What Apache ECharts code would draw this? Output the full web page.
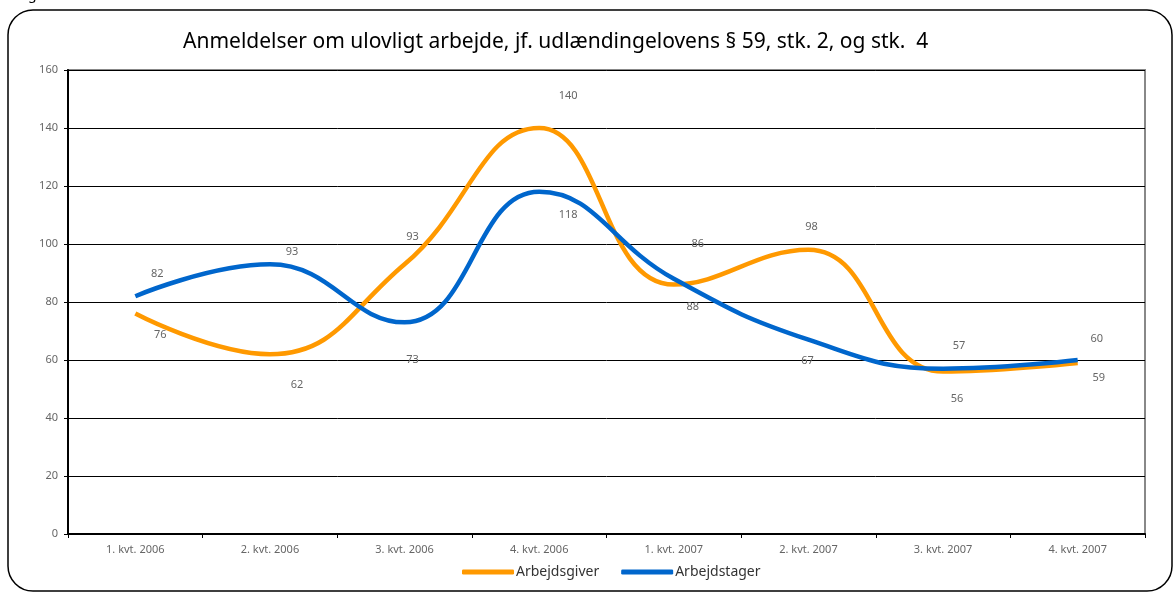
<!DOCTYPE html>
<html><head><meta charset="utf-8">
<script src="https://cdn.jsdelivr.net/npm/echarts@6/dist/echarts.min.js"></script>
<style>html,body{margin:0;padding:0;background:#fff}#c{width:1173px;height:592px}</style>
</head><body><div id="c"></div>
<script>
const categories = ['1. kvt. 2006','2. kvt. 2006','3. kvt. 2006','4. kvt. 2006','1. kvt. 2007','2. kvt. 2007','3. kvt. 2007','4. kvt. 2007'];
const arbejdsgiver = [76, 62, 93, 140, 86, 98, 56, 59];
const arbejdstager = [82, 93, 73, 118, 88, 67, 57, 60];
const yTicks = [0, 20, 40, 60, 80, 100, 120, 140, 160];

// label placement (pixel offsets from each point), kept separate from data
const giverLabelOffsets = [[25,21],[27,31],[8,-27],[29,-32],[24,-41],[3,-23],[14,27],[21,15]];
const tagerLabelOffsets = [[22,-22],[22,-12],[8,38],[29,23],[19,28],[-1,21],[16,-23],[19,-21]];

function withLabels(values, offsets){
  return values.map((v,i)=>({value:v,label:{offset:offsets[i]}}));
}
const font = 'Noto Sans';
const chart = echarts.init(document.getElementById('c'), null, {renderer:'canvas'});
chart.setOption({
  animation:false,
  backgroundColor:'#fff',
  title:{text:'Anmeldelser om ulovligt arbejde, jf. udlændingelovens § 59, stk. 2, og stk.  4',
    left:178, top:27, textStyle:{fontFamily:font, fontSize:21, fontWeight:'normal', color:'#000'}},
  graphic:[
    {type:'rect', shape:{x:8,y:10,width:1164,height:581,r:25}, style:{fill:null, stroke:'#000', lineWidth:1.5}, silent:true},
    {type:'text', x:28, y:-12, style:{text:'g', font:'14px Noto Sans', fill:'#000'}, silent:true}
  ],
  legend:{bottom:8, left:457, itemWidth:52, itemHeight:5, itemGap:22, icon:'roundRect',
    textStyle:{fontFamily:font, fontSize:14, color:'#333', padding:[0,0,0,-3]},
    data:['Arbejdsgiver','Arbejdstager']},
  grid:{left:68, right:28, top:70, bottom:58, show:true, borderColor:'#888', borderWidth:2, backgroundColor:'transparent'},
  xAxis:{type:'category', data:categories, boundaryGap:true,
    axisLine:{lineStyle:{color:'#000', width:2}},
    axisTick:{show:true, length:4, inside:false, lineStyle:{color:'#000'}},
    axisLabel:{color:'#666', fontFamily:font, fontSize:11, margin:10},
    splitLine:{show:false}},
  yAxis:{type:'value', min:yTicks[0], max:yTicks[yTicks.length-1], interval:20,
    axisLine:{show:true, lineStyle:{color:'#000', width:2}},
    axisTick:{show:true, length:4, lineStyle:{color:'#000'}},
    axisLabel:{color:'#666', fontFamily:font, fontSize:11, margin:10},
    splitLine:{show:true, lineStyle:{color:'#000', width:1}}},
  series:[
    {name:'Arbejdsgiver', type:'line', smooth:0.45, showSymbol:true, symbol:'circle', symbolSize:0,
      color:'#FF9900', lineStyle:{width:4.5, color:'#FF9900'},
      label:{show:true, position:'inside', color:'#666', fontFamily:font, fontSize:11},
      data:withLabels(arbejdsgiver, giverLabelOffsets)},
    {name:'Arbejdstager', type:'line', smooth:0.45, showSymbol:true, symbol:'circle', symbolSize:0,
      color:'#0066CC', lineStyle:{width:4.5, color:'#0066CC'},
      label:{show:true, position:'inside', color:'#666', fontFamily:font, fontSize:11},
      data:withLabels(arbejdstager, tagerLabelOffsets)}
  ]
});
</script></body></html>
